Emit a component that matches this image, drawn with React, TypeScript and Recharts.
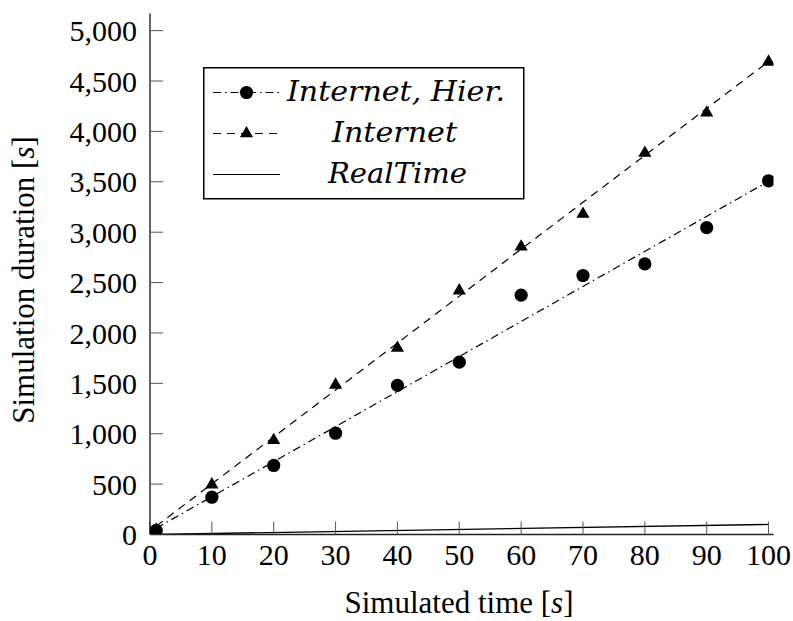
import React from 'react';
import { ComposedChart, XAxis, YAxis, Line, Scatter, Legend, Label } from 'recharts';

// ---- data ----
const simTime = [1, 10, 20, 30, 40, 50, 60, 70, 80, 90, 100];
const internetHier = [40, 370, 685, 1005, 1480, 1710, 2375, 2570, 2685, 3045, 3510];
const internet = [45, 495, 935, 1485, 1850, 2420, 2855, 3180, 3785, 4185, 4690];
const trendTime = [1, 100];
const trendHier = [62, 3505];
const trendInternet = [83, 4694];
const realTimeX = [1, 100];
const realTimeY = [1, 100];
const xTicks = [0, 10, 20, 30, 40, 50, 60, 70, 80, 90, 100];
const yTicks = [0, 500, 1000, 1500, 2000, 2500, 3000, 3500, 4000, 4500, 5000];
const legendLabels = ['Internet, Hier.', 'Internet', 'RealTime'];

const hierPoints = simTime.map((x, i) => ({ x, y: internetHier[i] }));
const internetPoints = simTime.map((x, i) => ({ x, y: internet[i] }));
const hierTrend = trendTime.map((x, i) => ({ x, y: trendHier[i] }));
const internetTrend = trendTime.map((x, i) => ({ x, y: trendInternet[i] }));
const realTime = realTimeX.map((x, i) => ({ x, y: realTimeY[i] }));

const FONT = 'Liberation Serif';
const MATH_FONT = 'DejaVu Serif';
const TICK_STYLE = { fontFamily: FONT, fontSize: 30, fill: '#000' };
const DASHED = '8 6';
const DASHDOT = '8 4 1.5 4';

const fmt = (v: number) => v.toLocaleString('en-US');

const CircleMark = (props: any) => {
  const { cx, cy } = props;
  if (cx == null || cy == null) return <g />;
  return <circle cx={cx} cy={cy} r={6.6} fill="#000" />;
};

const TriMark = (props: any) => {
  const { cx, cy } = props;
  if (cx == null || cy == null) return <g />;
  const r = 7.6;
  const h = r * 0.866;
  return (
    <polygon
      points={`${cx},${cy - r} ${cx + h},${cy + r / 2} ${cx - h},${cy + r / 2}`}
      fill="#000"
    />
  );
};

const Empty = () => <g />;

const XLabel = () => (
  <text x={459} y={613} textAnchor="middle" fontFamily={FONT} fontSize={31} fill="#000">
    <tspan>Simulated time [</tspan>
    <tspan fontStyle="italic">s</tspan>
    <tspan>]</tspan>
  </text>
);

const YLabel = () => (
  <text
    x={0}
    y={0}
    transform="translate(34, 280) rotate(-90)"
    textAnchor="middle"
    fontFamily={FONT}
    fontSize={31}
    fill="#000"
  >
    <tspan>Simulation duration [</tspan>
    <tspan fontStyle="italic">s</tspan>
    <tspan>]</tspan>
  </text>
);

const renderLegend = () => {
  const rows = [
    { y: 25.5, dash: DASHDOT, mark: 'circle' },
    { y: 66.5, dash: DASHED, mark: 'tri' },
    { y: 107.5, dash: undefined, mark: 'none' },
  ];
  const textX = [84, 129, 125];
  const textLen = [218, 125, 139];
  return (
    <svg width={322} height={133} style={{ display: 'block' }}>
      <rect x={0.75} y={0.75} width={320} height={131} fill="#fff" stroke="#000" strokeWidth={1.5} />
      {rows.map((r, i) => (
        <g key={i}>
          <line x1={10} x2={77} y1={r.y} y2={r.y} stroke="#000" strokeWidth={1.2} strokeDasharray={r.dash} />
          {r.mark === 'circle' && <CircleMark cx={43.5} cy={r.y} />}
          {r.mark === 'tri' && <TriMark cx={43.5} cy={r.y} />}
          <text
            x={textX[i]}
            y={r.y + 8.5}
            fontFamily={MATH_FONT}
            fontStyle="italic"
            fontSize={27}
            fill="#000"
            textLength={textLen[i]}
            lengthAdjust="spacingAndGlyphs"
          >
            {legendLabels[i]}
          </text>
        </g>
      ))}
    </svg>
  );
};

export default function App() {
  return (
    <div style={{ position: 'absolute', left: 0, top: 0, width: 793, height: 621, background: '#fff' }}>
      <ComposedChart
        width={793}
        height={621}
        margin={{ top: 13.5, right: 19.5, bottom: 26.5, left: 10 }}
      >
        <XAxis
          xAxisId="b"
          dataKey="x"
          type="number"
          domain={[0, 100.8]}
          ticks={xTicks}
          interval={0}
          allowDataOverflow
          orientation="bottom"
          height={60}
          tickSize={-13}
          tickMargin={22.5}
          tick={TICK_STYLE}
          tickLine={{ stroke: '#555', strokeWidth: 1 }}
          axisLine={{ stroke: '#222', strokeWidth: 1.4 }}
        >
          <Label content={XLabel} />
        </XAxis>
        <XAxis
          xAxisId="t"
          dataKey="x"
          type="number"
          domain={[0, 100.8]}
          ticks={xTicks}
          interval={0}
          allowDataOverflow
          orientation="top"
          height={0}
          tickSize={-13}
          tick={Empty}
          tickLine={{ stroke: '#555', strokeWidth: 1 }}
          axisLine={{ stroke: '#222', strokeWidth: 1.4 }}
        />
        <YAxis
          yAxisId="l"
          dataKey="y"
          type="number"
          domain={[0, 5170]}
          ticks={yTicks}
          interval={0}
          allowDataOverflow
          orientation="left"
          width={140}
          tickSize={-13}
          tickMargin={26}
          tick={TICK_STYLE}
          tickFormatter={fmt}
          tickLine={{ stroke: '#555', strokeWidth: 1 }}
          axisLine={{ stroke: '#222', strokeWidth: 1.4 }}
        >
          <Label content={YLabel} />
        </YAxis>
        <YAxis
          yAxisId="r"
          dataKey="y"
          type="number"
          domain={[0, 5170]}
          ticks={yTicks}
          interval={0}
          allowDataOverflow
          orientation="right"
          width={0}
          tickSize={-13}
          tick={Empty}
          tickLine={{ stroke: '#555', strokeWidth: 1 }}
          axisLine={{ stroke: '#222', strokeWidth: 1.4 }}
        />
        <Line xAxisId="b" yAxisId="l" data={realTime} dataKey="y" stroke="#000" strokeWidth={1.3} dot={false} activeDot={false} isAnimationActive={false} legendType="none" />
        <Line xAxisId="b" yAxisId="l" data={internetTrend} dataKey="y" stroke="#000" strokeWidth={1.2} strokeDasharray={DASHED} dot={false} activeDot={false} isAnimationActive={false} legendType="none" />
        <Line xAxisId="b" yAxisId="l" data={hierTrend} dataKey="y" stroke="#000" strokeWidth={1.2} strokeDasharray={DASHDOT} dot={false} activeDot={false} isAnimationActive={false} legendType="none" />
        <Scatter xAxisId="b" yAxisId="l" data={internetPoints} dataKey="y" shape={TriMark} isAnimationActive={false} legendType="none" />
        <Scatter xAxisId="b" yAxisId="l" data={hierPoints} dataKey="y" shape={CircleMark} isAnimationActive={false} legendType="none" />
        <Legend
          layout="horizontal"
          verticalAlign="middle"
          align="center"
          content={renderLegend}
          wrapperStyle={{ left: 203, top: 67, width: 322, height: 133, right: 'auto', bottom: 'auto' }}
        />
      </ComposedChart>
    </div>
  );
}
